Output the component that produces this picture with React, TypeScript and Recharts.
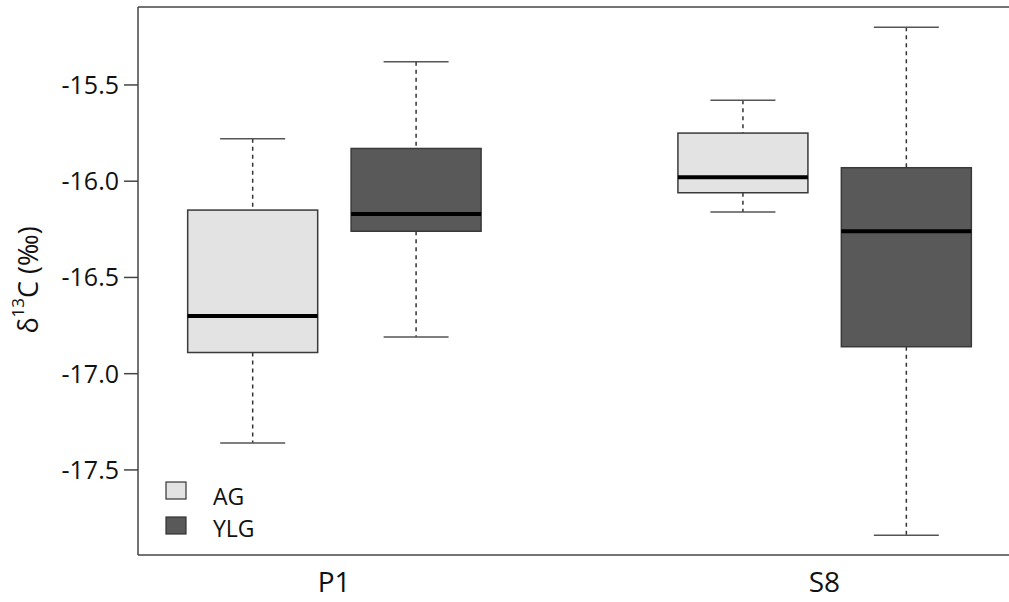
import React from 'react';
import { ComposedChart, Bar, XAxis, YAxis, ReferenceLine } from 'recharts';

const sites = ['P1', 'S8'];
const groups = ['AG', 'YLG'];
const groupColors = ['#e3e3e3', '#595959'];
const positions = [1, 2, 4, 5];
const sitePositions = [1.5, 4.5];

// box stats per box, in order P1-AG, P1-YLG, S8-AG, S8-YLG
const whiskerLow = [-17.36, -16.81, -16.16, -17.84];
const q1 = [-16.89, -16.26, -16.06, -16.86];
const median = [-16.7, -16.17, -15.98, -16.26];
const q3 = [-16.15, -15.83, -15.75, -15.93];
const whiskerHigh = [-15.78, -15.38, -15.58, -15.2];

const yTicks = [-17.5, -17.0, -16.5, -16.0, -15.5];
const yDomain = [-17.942, -15.095];

const FONT = '"Open Sans", sans-serif';

const data = positions.map((pos, i) => ({
    pos,
    site: sites[Math.floor(i / 2)],
    group: groups[i % 2],
    color: groupColors[i % 2],
    whiskerLow: whiskerLow[i],
    q1: q1[i],
    median: median[i],
    q3: q3[i],
    whiskerHigh: whiskerHigh[i],
}));

const BoxShape = (props: any) => {
    const { x, y, width, height, payload } = props;
    const top = Math.min(y, y + height);
    const h = Math.abs(height);
    const hi = payload.whiskerHigh;
    const lo = payload.whiskerLow;
    const toY = (v: number) => top + (h * (hi - v)) / (hi - lo);
    const cx = x + width / 2;
    const capHalf = width / 4;
    const yq3 = toY(payload.q3);
    const yq1 = toY(payload.q1);
    const ymed = toY(payload.median);
    return (
        <g>
            <line x1={cx} x2={cx} y1={top} y2={yq3} stroke="#333" strokeWidth={1.5} strokeDasharray="4 4" />
            <line x1={cx} x2={cx} y1={yq1} y2={top + h} stroke="#333" strokeWidth={1.5} strokeDasharray="4 4" />
            <line x1={cx - capHalf} x2={cx + capHalf} y1={top} y2={top} stroke="#555" strokeWidth={1.5} />
            <line x1={cx - capHalf} x2={cx + capHalf} y1={top + h} y2={top + h} stroke="#555" strokeWidth={1.5} />
            <rect x={x} y={yq3} width={width} height={yq1 - yq3} fill={payload.color} stroke="#3a3a3a" strokeWidth={1.5} />
            <line x1={x} x2={x + width} y1={ymed} y2={ymed} stroke="#000" strokeWidth={4} />
        </g>
    );
};

const SiteTick = (props: any) => {
    const { x, y, payload } = props;
    const idx = sitePositions.indexOf(payload.value);
    return (
        <text x={x} y={y + 35} textAnchor="middle" fontFamily={FONT} fontSize={28} fill="#111">
            {sites[idx]}
        </text>
    );
};

const YLabel = () => (
    <text
        x={27}
        y={280}
        transform="rotate(-90, 27, 280)"
        textAnchor="middle"
        dominantBaseline="central"
        fontFamily={FONT}
        fontSize={27}
        fill="#111"
    >
        δ<tspan dy={-10} fontSize={17}>13</tspan>
        <tspan dy={10}>C (‰)</tspan>
    </text>
);

const BoxLegend = () => (
    <svg width={120} height={70} style={{ position: 'absolute', left: 160, top: 474 }}>
        {groups.map((g, i) => (
            <g key={g}>
                <rect x={6} y={8 + i * 35} width={20} height={17} fill={groupColors[i]} stroke="#333" strokeWidth={1.2} />
                <text x={53} y={31 + i * 32} fontFamily={FONT} fontSize={23} fill="#111">
                    {g}
                </text>
            </g>
        ))}
    </svg>
);

const App: React.FC = () => {
    return (
        <div style={{ position: 'absolute', left: 0, top: 0, width: 1009, height: 602, background: '#fff', overflow: 'hidden' }}>
            <ComposedChart
                width={1009}
                height={602}
                data={data}
                margin={{ top: 7, right: 0, bottom: 0, left: 0 }}
                accessibilityLayer={false}
            >
                <XAxis
                    type="number"
                    dataKey="pos"
                    domain={[0.3, 5.63]}
                    ticks={sitePositions}
                    tick={<SiteTick />}
                    tickLine={false}
                    tickSize={0}
                    height={47}
                    allowDataOverflow
                    stroke="#444"
                    strokeWidth={1.5}
                />
                <YAxis
                    type="number"
                    domain={yDomain}
                    ticks={yTicks}
                    allowDataOverflow
                    width={138}
                    tickSize={14}
                    tickMargin={5}
                    tickFormatter={(v: number) => v.toFixed(1)}
                    tick={{ fontFamily: FONT, fontSize: 25, fill: '#111' }}
                    stroke="#444"
                    strokeWidth={1.5}
                    label={<YLabel />}
                />
                <ReferenceLine y={yDomain[1]} stroke="#444" strokeWidth={1.5} />
                <Bar
                    dataKey={(d: any) => [d.whiskerLow, d.whiskerHigh]}
                    barSize={130}
                    shape={<BoxShape />}
                    isAnimationActive={false}
                />
            </ComposedChart>
            <BoxLegend />
        </div>
    );
};

export default App;
